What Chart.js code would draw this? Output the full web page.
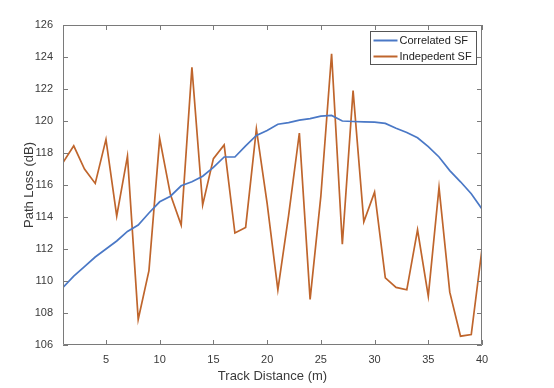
<!DOCTYPE html>
<html>
<head>
<meta charset="utf-8">
<script src="https://cdn.jsdelivr.net/npm/chart.js@4"></script>
<style>
  html, body { margin: 0; padding: 0; background: #fff; }
  #wrap { width: 554px; height: 388px; }
</style>
</head>
<body>
<div id="wrap"><canvas id="chart"></canvas></div>
<script>
// track distance (m)
const distance = [1,2,3,4,5,6,7,8,9,10,11,12,13,14,15,16,17,18,19,20,21,22,23,24,25,26,27,28,29,30,31,32,33,34,35,36,37,38,39,40];
// path loss (dB)
const correlatedSF = [109.6,110.3,110.9,111.5,112.0,112.5,113.1,113.5,114.25,114.95,115.3,115.95,116.2,116.55,117.1,117.75,117.75,118.45,119.1,119.4,119.8,119.9,120.05,120.15,120.3,120.35,120.0,119.97,119.95,119.93,119.85,119.55,119.28,118.95,118.4,117.75,116.9,116.2,115.45,114.5];
const independentSF = [117.4,118.45,117.0,116.1,118.85,114.05,117.8,107.6,110.65,118.9,115.4,113.5,123.35,114.75,117.65,118.5,113.0,113.35,119.5,114.85,109.45,114.1,119.25,108.85,115.3,124.2,112.3,121.9,113.7,115.55,110.2,109.6,109.45,113.2,109.05,115.85,109.3,106.55,106.65,112.0];
const xTicks = [5,10,15,20,25,30,35,40];
const yTicks = [106,108,110,112,114,116,118,120,122,124,126];

const axisColor = '#7a7a7a';
const textColor = '#3a3a3a';
const fontFamily = '"Liberation Sans", Arial, Helvetica, sans-serif';

// matlab style box: ticks pointing inward on all four sides + legend box
const boxPlugin = {
    id: 'boxPlugin',
    afterDraw(chart) {
        const ctx = chart.ctx;
        const a = chart.chartArea;
        const xs = chart.scales.x, ys = chart.scales.y;
        const len = 5;
        ctx.save();
        ctx.strokeStyle = axisColor;
        ctx.lineWidth = 1;
        ctx.beginPath();
        ctx.rect(a.left + 0.5, a.top + 0.5, a.right - a.left - 1, a.bottom - a.top - 1);
        xTicks.forEach(v => {
            const px = Math.round(xs.getPixelForValue(v)) + 0.5;
            ctx.moveTo(px, a.bottom); ctx.lineTo(px, a.bottom - len);
            ctx.moveTo(px, a.top); ctx.lineTo(px, a.top + len);
        });
        yTicks.forEach(v => {
            const py = Math.round(ys.getPixelForValue(v)) + 0.5;
            ctx.moveTo(a.left, py); ctx.lineTo(a.left + len, py);
            ctx.moveTo(a.right, py); ctx.lineTo(a.right - len, py);
        });
        ctx.stroke();

        // legend
        const lx = 370.5, ly = 31.5, lw = 106, lh = 33;
        ctx.fillStyle = '#fff';
        ctx.fillRect(lx, ly, lw, lh);
        ctx.strokeStyle = '#555';
        ctx.strokeRect(lx, ly, lw, lh);
        ctx.font = '11px ' + fontFamily;
        ctx.textBaseline = 'middle';
        chart.data.datasets.forEach((ds, i) => {
            const y = ly + 9 + i * 16;
            ctx.strokeStyle = ds.borderColor;
            ctx.lineWidth = 2;
            ctx.beginPath();
            ctx.moveTo(lx + 3, y); ctx.lineTo(lx + 27, y);
            ctx.stroke();
            ctx.fillStyle = '#222';
            ctx.fillText(ds.label, lx + 29, y + 0.5);
        });
        ctx.restore();
    }
};

new Chart(document.getElementById('chart'), {
    type: 'line',
    data: {
        labels: distance,
        datasets: [
            {
                label: 'Correlated SF',
                data: correlatedSF,
                borderColor: '#4a78c6',
                borderWidth: 1.7,
                pointRadius: 0,
                tension: 0
            },
            {
                label: 'Indepedent SF',
                data: independentSF,
                borderColor: '#bf652c',
                borderWidth: 1.7,
                pointRadius: 0,
                tension: 0
            }
        ]
    },
    options: {
        responsive: true,
        maintainAspectRatio: false,
        animation: false,
        layout: { padding: { top: 25, right: 72, left: 18, bottom: 0 } },
        plugins: {
            legend: { display: false },
            tooltip: { enabled: false }
        },
        scales: {
            x: {
                type: 'linear',
                min: 1,
                max: 40,
                afterBuildTicks: s => { s.ticks = xTicks.map(v => ({value: v})); },
                afterFit: s => { s.height = 43; },
                grid: { display: false, drawTicks: false },
                border: { display: false },
                ticks: { color: textColor, font: { size: 11, family: fontFamily }, padding: 8, maxRotation: 0 },
                title: { display: true, text: 'Track Distance (m)', color: textColor, font: { size: 13, family: fontFamily }, padding: { top: 3 } }
            },
            y: {
                min: 106,
                max: 126,
                afterBuildTicks: s => { s.ticks = yTicks.map(v => ({value: v})); },
                afterFit: s => { s.width = 45; },
                grid: { display: false, drawTicks: false },
                border: { display: false },
                ticks: { color: textColor, font: { size: 11, family: fontFamily }, padding: 10 },
                title: { display: true, text: 'Path Loss (dB)', color: textColor, font: { size: 13, family: fontFamily }, padding: { bottom: 4 } }
            }
        }
    },
    plugins: [boxPlugin]
});
</script>
</body>
</html>
